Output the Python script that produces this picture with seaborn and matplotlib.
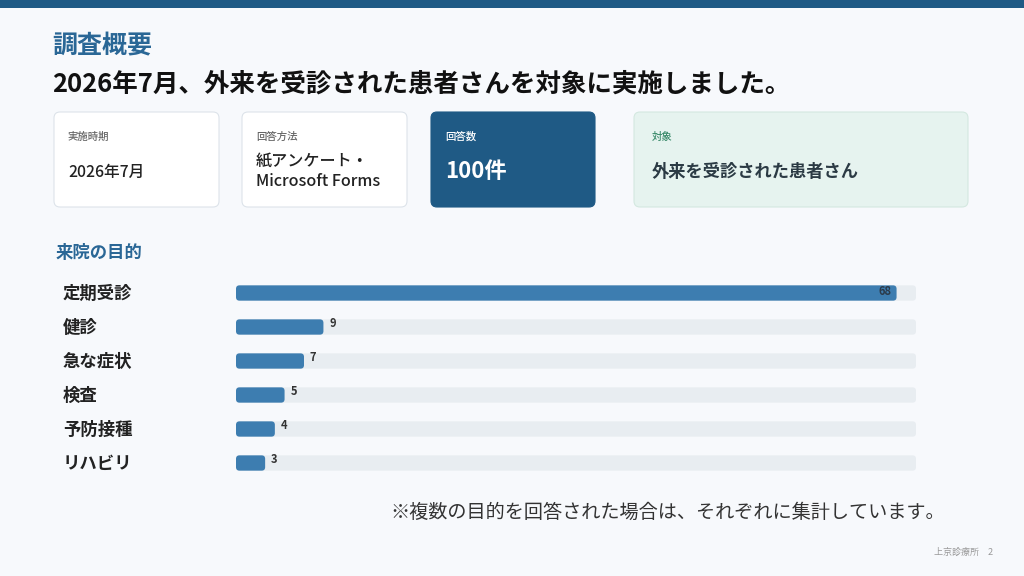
import matplotlib
matplotlib.use("Agg")
import matplotlib.pyplot as plt
from matplotlib.patches import FancyBboxPatch, Rectangle
import seaborn as sns
import pandas as pd

# ---- data ----
categories = ["定期受診", "健診", "急な症状", "検査", "予防接種", "リハビリ"]
counts = [68, 9, 7, 5, 4, 3]
scale_max = 70
title = "調査概要"
subtitle = "2026年7月、外来を受診された患者さんを対象に実施しました。"
card_labels = ["実施時期", "回答方法", "回答数", "対象"]
card_values = ["2026年7月", "紙アンケート・\nMicrosoft Forms", "100件", "外来を受診された患者さん"]
section_title = "来院の目的"
note = "※複数の目的を回答された場合は、それぞれに集計しています。"
footer = "上京診療所　2"

sns.set_theme(style="white")
plt.rcParams['font.family'] = ['Noto Sans CJK JP', 'DejaVu Sans']

BG = "#f7f9fc"
NAVY = "#1f5a85"
BLUE = "#3d7db0"
TRACK = "#e8edf1"
TITLE_BLUE = "#2a6796"

W, H = 1024, 576
fig = plt.figure(figsize=(W / 100, H / 100), dpi=100, facecolor=BG)

# overlay in pixel coordinates
ov = fig.add_axes([0, 0, 1, 1])
ov.set_xlim(0, W)
ov.set_ylim(H, 0)
ov.axis("off")
ov.set_facecolor(BG)

ov.add_patch(Rectangle((0, 0), W, 8, color=NAVY, lw=0))

ov.text(52, 46, title, fontsize=18, fontweight="bold", color=TITLE_BLUE, va="center", ha="left")
ov.text(52, 84, subtitle, fontsize=18.4, fontweight="bold", color="#111111", va="center", ha="left")


def card(x0, x1, face, edge):
    ov.add_patch(FancyBboxPatch((x0, 112), x1 - x0, 95,
                                boxstyle="round,pad=0,rounding_size=6",
                                facecolor=face, edgecolor=edge, lw=0.8))


card(54, 219, "white", "#dde3ea")
card(242, 407, "white", "#dde3ea")
card(431, 595, NAVY, NAVY)
card(634, 968, "#e6f3ef", "#d4e8e0")

ov.text(68, 137, card_labels[0], fontsize=7.5, fontweight="medium", color="#666666", va="center")
ov.text(68, 172, card_values[0], fontsize=11.3, fontweight="medium", color="#222222", va="center")
ov.text(256, 137, card_labels[1], fontsize=7.5, fontweight="medium", color="#666666", va="center")
ov.text(256, 172, card_values[1], fontsize=11.6, fontweight="medium", color="#222222", va="center",
        linespacing=1.2)
ov.text(445, 137, card_labels[2], fontsize=7.5, fontweight="medium", color="white", va="center")
ov.text(445, 172, card_values[2], fontsize=16, fontweight="bold", color="white", va="center")
ov.text(652, 137, card_labels[3], fontsize=7.5, fontweight="medium", color="#3a8a6a", va="center")
ov.text(652, 172, card_values[3], fontsize=12.4, fontweight="bold", color="#2b3a44", va="center")

ov.text(56, 253, section_title, fontsize=12.5, fontweight="bold", color=TITLE_BLUE, va="center")

for i, c in enumerate(categories):
    ov.text(63, 294 + 34 * i, c, fontsize=12.5, fontweight="bold", color="#222222", va="center")

ov.text(945, 512, note, fontsize=13.8, color="#333333", va="center", ha="right")
ov.text(993, 552, footer, fontsize=6.5, color="#999999", va="center", ha="right")

# ---- bar chart ----
ax = fig.add_axes([236 / W, 1 - 480 / H, 680 / W, 204 / H])
ax.set_facecolor("none")
df = pd.DataFrame({"cat": categories, "count": counts, "full": [scale_max] * len(categories)})
sns.barplot(data=df, y="cat", x="full", color=TRACK, width=0.45, ax=ax, saturation=1, orient="h")
sns.barplot(data=df, y="cat", x="count", color=BLUE, width=0.45, ax=ax, saturation=1, orient="h")
ax.set_xlim(0, scale_max)
ax.set_ylim(len(categories) - 0.5, -0.5)
ax.axis("off")

# rounded corners
px_per_x = 680 / scale_max
px_per_y = 204 / len(categories)
r_px = 3.5
rects = list(ax.patches)
for p in rects:
    x, y, w, h = p.get_x(), p.get_y(), p.get_width(), p.get_height()
    fc = p.get_facecolor()
    p.remove()
    ax.add_patch(FancyBboxPatch((x, y), w, h,
                                boxstyle=f"round,pad=0,rounding_size={r_px / px_per_x}",
                                mutation_aspect=px_per_x / px_per_y,
                                facecolor=fc, edgecolor="none", lw=0))

for i, v in enumerate(counts):
    if v > 60:
        ax.text(v - 0.5, i - 0.03, str(v), fontsize=8, fontweight="bold", color="#2b3a4a",
                ha="right", va="center")
    else:
        ax.text(v + 0.6, i - 0.1, str(v), fontsize=8, fontweight="bold", color="#333333",
                ha="left", va="center")

fig.savefig("out.png", dpi=100, facecolor=BG)
